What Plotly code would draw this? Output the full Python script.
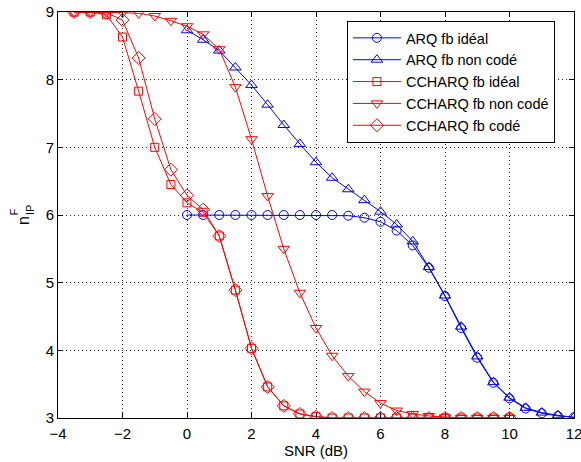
import plotly.graph_objects as go

# SNR values (dB)
snr_arq = [0, 0.5, 1, 1.5, 2, 2.5, 3, 3.5, 4, 4.5, 5, 5.5, 6, 6.5, 7, 7.5,
           8, 8.5, 9, 9.5, 10, 10.5, 11, 11.5, 12]
snr_cc = [-3.5, -3, -2.5, -2, -1.5, -1, -0.5, 0, 0.5, 1, 1.5, 2, 2.5, 3, 3.5,
          4, 4.5, 5, 5.5, 6, 6.5, 7, 7.5, 8, 8.5, 9, 9.5, 10]

arq_ideal = [6.0, 6.0, 6.0, 6.0, 6.0, 6.0, 6.0, 6.0, 6.0, 6.0, 5.99, 5.96, 5.90,
             5.77, 5.55, 5.22, 4.80, 4.33, 3.89, 3.52, 3.29, 3.14, 3.07, 3.03, 3.01]
arq_noncode = [8.73, 8.59, 8.43, 8.18, 7.92, 7.63, 7.33, 7.05, 6.78, 6.55, 6.38,
               6.22, 6.05, 5.86, 5.61, 5.23, 4.81, 4.35, 3.91, 3.53, 3.30, 3.15,
               3.08, 3.04, 3.01]
cc_ideal = [9.0, 9.0, 8.96, 8.63, 7.83, 7.0, 6.45, 6.18, 6.04, 5.69, 4.89, 4.03,
            3.46, 3.18, 3.06, 3.02, 3.0, 3.0, 3.0, 3.0, 3.0, 3.0, 3.0, 3.0, 3.0,
            3.0, 3.0, 3.0]
cc_noncode = [9.0, 9.0, 9.0, 8.99, 8.98, 8.94, 8.87, 8.79, 8.67, 8.45, 7.89, 7.12,
              6.28, 5.50, 4.85, 4.33, 3.92, 3.62, 3.39, 3.22, 3.11, 3.06, 3.03,
              3.01, 3.0, 3.0, 3.0, 3.0]
cc_code = [9.0, 9.0, 8.99, 8.88, 8.32, 7.42, 6.67, 6.29, 6.08, 5.69, 4.89, 4.03,
           3.46, 3.18, 3.06, 3.02, 3.0, 3.0, 3.0, 3.0, 3.0, 3.0, 3.0, 3.0, 3.0,
           3.0, 3.0, 3.0]

x_ticks = [-4, -2, 0, 2, 4, 6, 8, 10, 12]
y_ticks = [3, 4, 5, 6, 7, 8, 9]

BLUE = "#0000ff"
RED = "#ff0000"
FONT = "Liberation Sans, Arial, Helvetica, sans-serif"

series = [
    ("ARQ fb idéal", snr_arq, arq_ideal, BLUE, "circle-open", 9),
    ("ARQ fb non codé", snr_arq, arq_noncode, BLUE, "triangle-up-open", 10),
    ("CCHARQ fb idéal", snr_cc, cc_ideal, RED, "square-open", 8),
    ("CCHARQ fb non codé", snr_cc, cc_noncode, RED, "triangle-down-open", 10),
    ("CCHARQ fb codé", snr_cc, cc_code, RED, "diamond-open", 10),
]

fig = go.Figure()
for name, xs, ys, col, sym, sz in series:
    fig.add_trace(go.Scatter(
        x=xs, y=ys, name=name, mode="lines+markers",
        line=dict(color=col, width=1),
        marker=dict(symbol=sym, size=sz, color=col, line=dict(color=col, width=1)),
    ))

axis_common = dict(
    showline=True, linecolor="black", linewidth=1, mirror="ticks",
    ticks="inside", ticklen=5, tickcolor="black", tickwidth=1,
    showgrid=True, gridcolor="#222222", gridwidth=0.8, griddash="1px,3px",
    zeroline=False, tickfont=dict(family=FONT, size=15, color="black"),
    ticklabeloverflow="allow",
)

fig.update_layout(
    width=581, height=462,
    margin=dict(l=58, r=7, t=12, b=44, autoexpand=False),
    plot_bgcolor="white", paper_bgcolor="white",
    font=dict(family=FONT, size=15, color="black"),
    xaxis=dict(range=[-4, 12], tickvals=x_ticks, ticklabelstandoff=2,
               title=dict(text="SNR (dB)", standoff=0, font=dict(size=15)),
               **axis_common),
    yaxis=dict(range=[3, 9], tickvals=y_ticks, **axis_common),
    legend=dict(
        x=0.963, y=0.978, xanchor="right", yanchor="top",
        bgcolor="white", bordercolor="black", borderwidth=1,
        font=dict(family=FONT, size=14.5, color="black"),
        tracegroupgap=0, itemwidth=48,
    ),
    showlegend=True,
)

# y-axis label: n with stacked superscript F and subscript IP
fig.add_annotation(xref="paper", yref="paper", x=0, y=0.5, xshift=-35, yshift=-6,
                   xanchor="center", yanchor="middle",
                   text="n", textangle=-90, showarrow=False,
                   font=dict(family=FONT, size=16, color="black"))
fig.add_annotation(xref="paper", yref="paper", x=0, y=0.5, xshift=-44.5, yshift=3,
                   xanchor="center", yanchor="middle",
                   text="F", textangle=-90, showarrow=False,
                   font=dict(family=FONT, size=11, color="black"))
fig.add_annotation(xref="paper", yref="paper", x=0, y=0.5, xshift=-28, yshift=5,
                   xanchor="center", yanchor="middle",
                   text="IP", textangle=-90, showarrow=False,
                   font=dict(family=FONT, size=11, color="black"))

fig.write_html("out.html",
               config={"displayModeBar": False},
               post_script="document.body.style.margin='0px';document.body.style.overflow='hidden';")
